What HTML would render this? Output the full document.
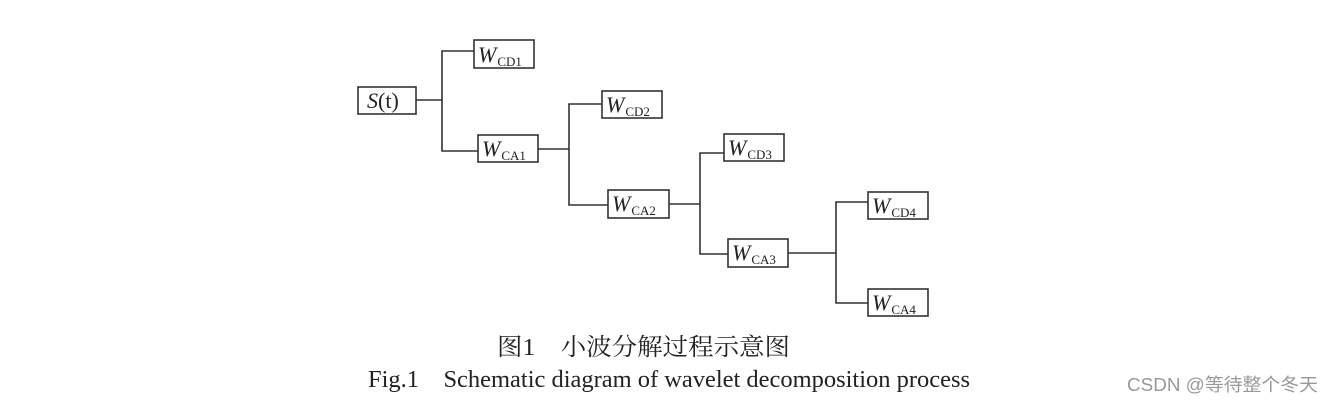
<!DOCTYPE html>
<html><head><meta charset="utf-8"><style>
html,body{margin:0;padding:0;background:#fff;}
svg{display:block;}
</style></head><body>
<svg width="1334" height="402" viewBox="0 0 1334 402" xmlns="http://www.w3.org/2000/svg">
<g fill="none" stroke="#333" stroke-width="1.6">
<rect x="358" y="87" width="58" height="27"/>
<rect x="474" y="40" width="60" height="28"/>
<rect x="478" y="135" width="60" height="27"/>
<rect x="602" y="91" width="60" height="27"/>
<rect x="608" y="190" width="61" height="28"/>
<rect x="724" y="134" width="60" height="27"/>
<rect x="728" y="239" width="60" height="28"/>
<rect x="868" y="192" width="60" height="27"/>
<rect x="868" y="289" width="60" height="27"/>
<polyline points="416,100 442,100"/>
<polyline points="474,51 442,51 442,151 478,151"/>
<polyline points="538,149 569,149"/>
<polyline points="602,104 569,104 569,205 608,205"/>
<polyline points="669,204 700,204"/>
<polyline points="724,153 700,153 700,254 728,254"/>
<polyline points="788,253 836,253"/>
<polyline points="868,202 836,202 836,303 868,303"/>
</g>
<g font-family="'Liberation Serif', serif" fill="#222">
<text x="367" y="108" font-size="22"><tspan font-style="italic">S</tspan>(t)</text>
<text x="478" y="62" font-size="22"><tspan font-style="italic">W</tspan><tspan font-size="13" dx="1" dy="4">CD1</tspan></text>
<text x="482" y="156" font-size="22"><tspan font-style="italic">W</tspan><tspan font-size="13" dx="1" dy="4">CA1</tspan></text>
<text x="606" y="112" font-size="22"><tspan font-style="italic">W</tspan><tspan font-size="13" dx="1" dy="4">CD2</tspan></text>
<text x="612" y="211" font-size="22"><tspan font-style="italic">W</tspan><tspan font-size="13" dx="1" dy="4">CA2</tspan></text>
<text x="728" y="155" font-size="22"><tspan font-style="italic">W</tspan><tspan font-size="13" dx="1" dy="4">CD3</tspan></text>
<text x="732" y="260" font-size="22"><tspan font-style="italic">W</tspan><tspan font-size="13" dx="1" dy="4">CA3</tspan></text>
<text x="872" y="213" font-size="22"><tspan font-style="italic">W</tspan><tspan font-size="13" dx="1" dy="4">CD4</tspan></text>
<text x="872" y="310" font-size="22"><tspan font-style="italic">W</tspan><tspan font-size="13" dx="1" dy="4">CA4</tspan></text>
<text x="497" y="355" font-size="24" textLength="293" lengthAdjust="spacingAndGlyphs" font-family="'Liberation Serif','Noto Serif CJK SC',serif">图1　小波分解过程示意图</text>
<text x="368" y="387" font-size="24" textLength="602" lengthAdjust="spacingAndGlyphs">Fig.1　Schematic diagram of wavelet decomposition process</text>
</g>
<text x="1127" y="391" font-size="18" textLength="191" lengthAdjust="spacingAndGlyphs" fill="#999" font-family="'Liberation Sans','Noto Sans CJK SC',sans-serif">CSDN @等待整个冬天</text>
</svg>
</body></html>
